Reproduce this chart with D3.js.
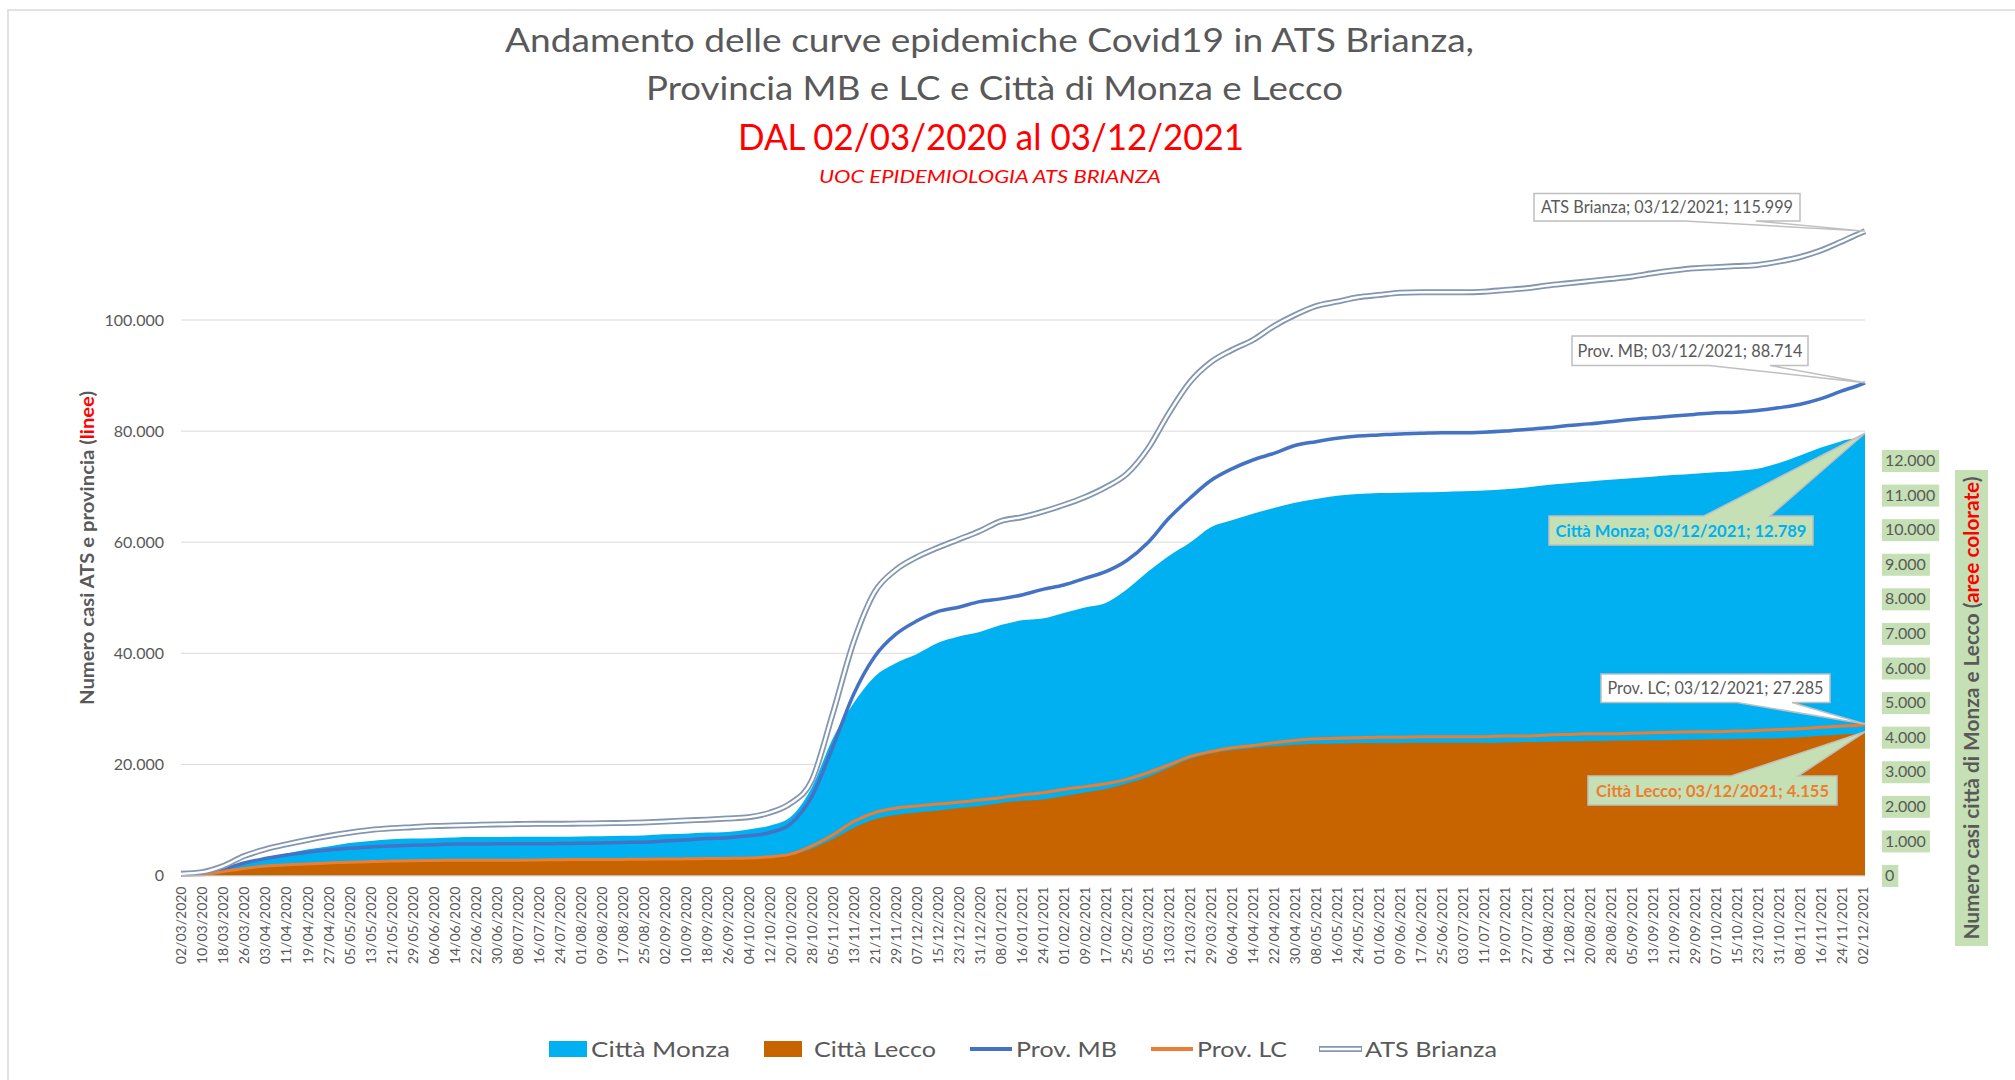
<!DOCTYPE html>
<html><head><meta charset="utf-8">
<script src="https://cdn.jsdelivr.net/npm/d3@7"></script>
<style>
body{margin:0;background:#fff;}
text{font-family:Lato,"Open Sans",sans-serif;}
</style>
</head><body>
<svg id="c" width="2015" height="1080"></svg>
<script>
// ---------------- DATA ----------------
const tickLabels = ["02/03/2020","10/03/2020","18/03/2020","26/03/2020","03/04/2020","11/04/2020","19/04/2020","27/04/2020","05/05/2020","13/05/2020","21/05/2020","29/05/2020","06/06/2020","14/06/2020","22/06/2020","30/06/2020","08/07/2020","16/07/2020","24/07/2020","01/08/2020","09/08/2020","17/08/2020","25/08/2020","02/09/2020","10/09/2020","18/09/2020","26/09/2020","04/10/2020","12/10/2020","20/10/2020","28/10/2020","05/11/2020","13/11/2020","21/11/2020","29/11/2020","07/12/2020","15/12/2020","23/12/2020","31/12/2020","08/01/2021","16/01/2021","24/01/2021","01/02/2021","09/02/2021","17/02/2021","25/02/2021","05/03/2021","13/03/2021","21/03/2021","29/03/2021","06/04/2021","14/04/2021","22/04/2021","30/04/2021","08/05/2021","16/05/2021","24/05/2021","01/06/2021","09/06/2021","17/06/2021","25/06/2021","03/07/2021","11/07/2021","19/07/2021","27/07/2021","04/08/2021","12/08/2021","20/08/2021","28/08/2021","05/09/2021","13/09/2021","21/09/2021","29/09/2021","07/10/2021","15/10/2021","23/10/2021","31/10/2021","08/11/2021","16/11/2021","24/11/2021","02/12/2021"];
const lastDate = "03/12/2021";
const sampleDates = tickLabels.concat([lastDate]);

const atsBrianza = [300,600,1700,3500,4700,5600,6400,7100,7700,8200,8500,8700,8900,9000,9100,9200,9250,9300,9300,9350,9400,9450,9550,9700,9900,10050,10250,10500,11300,13000,17000,29000,42000,51000,55000,57300,59000,60500,62000,63800,64500,65500,66700,68100,69900,72300,76800,83200,88800,92400,94600,96400,98900,100900,102500,103300,104100,104500,104900,105000,105000,105000,105100,105400,105700,106200,106600,107000,107400,107800,108400,108900,109300,109500,109700,109900,110500,111300,112500,114100,115800,115999];
const provMB = [150,300,1100,2250,3050,3700,4200,4600,4900,5150,5300,5450,5550,5650,5650,5700,5700,5700,5750,5800,5850,5950,6000,6200,6400,6650,6800,7150,7700,9300,14100,23000,32600,39400,43400,45800,47500,48300,49300,49800,50500,51500,52300,53500,54700,56700,59900,64300,67900,71100,73200,74800,76000,77400,78100,78700,79100,79300,79500,79600,79700,79700,79800,80000,80300,80600,81000,81300,81700,82100,82400,82700,83000,83300,83400,83700,84200,84800,85800,87200,88500,88714];
const provLC = [50,150,700,1280,1700,1930,2090,2250,2400,2500,2600,2650,2700,2730,2730,2750,2750,2780,2850,2880,2890,2900,2920,2950,3000,3050,3080,3150,3370,3850,5300,7300,9700,11300,12100,12500,12850,13200,13600,14000,14500,14900,15500,16000,16500,17300,18500,19900,21400,22300,23000,23400,23900,24300,24600,24700,24800,24900,24900,25000,25000,25000,25000,25100,25100,25300,25400,25500,25500,25600,25700,25800,25900,25900,26000,26100,26300,26400,26700,26900,27100,27285];
const cittaMonza = [0,30,150,340,500,630,750,840,940,1000,1050,1070,1080,1100,1110,1110,1120,1120,1120,1130,1135,1150,1160,1190,1210,1240,1260,1330,1440,1690,2530,3950,4980,5750,6140,6400,6720,6910,7040,7240,7380,7430,7590,7750,7880,8270,8780,9240,9620,10070,10270,10460,10630,10780,10890,10980,11030,11060,11070,11080,11090,11110,11130,11170,11220,11290,11340,11390,11440,11490,11530,11580,11620,11660,11700,11760,11920,12140,12370,12560,12720,12789];
const cittaLecco = [0,10,80,180,230,270,310,335,360,390,410,425,440,450,450,455,460,465,475,480,480,485,485,490,490,495,500,510,540,590,770,1045,1370,1625,1750,1820,1880,1950,2010,2100,2160,2200,2300,2400,2500,2660,2850,3110,3370,3530,3620,3690,3740,3780,3810,3820,3830,3830,3830,3835,3835,3840,3840,3845,3860,3870,3880,3890,3900,3905,3910,3920,3930,3940,3950,3960,3970,4000,4040,4080,4110,4155];

const leftTicks = [0,20000,40000,60000,80000,100000];
const rightTicks = [0,1000,2000,3000,4000,5000,6000,7000,8000,9000,10000,11000,12000];
const seriesNames = ["Città Monza","Città Lecco","Prov. MB","Prov. LC","ATS Brianza"];

// ---------------- SETUP ----------------
const C = {monza:"#00b0f0", lecco:"#c86400", mb:"#4472c4", lc:"#ed7d31", ats:"#8497b0", txt:"#595959", grid:"#d9d9d9", green:"#c5e0b4", red:"#ff0000"};
const svg = d3.select("#c");
const parse = d3.timeParse("%d/%m/%Y");
const itLoc = d3.formatLocale({decimal:",", thousands:".", grouping:[3], currency:["","€"]});
const fmt = itLoc.format(",");

svg.append("rect").attr("width",2015).attr("height",1080).attr("fill","#fff");
svg.append("rect").attr("x",8).attr("y",10).attr("width",2030).attr("height",1100)
  .attr("fill","none").attr("stroke",C.grid).attr("stroke-width",1.5);

const x = d3.scaleTime().domain([parse(sampleDates[0]), parse(lastDate)]).range([181, 1865]);
const yL = d3.scaleLinear().domain([0,100000]).range([875.5, 320]);
const yR = d3.scaleLinear().domain([0,12000]).range([875.5, 460.5]);

const pts = arr => arr.map((v,i)=>({date:parse(sampleDates[i]), v}));

// gridlines
svg.append("g").selectAll("line").data(leftTicks.filter(d=>d>0)).join("line")
  .attr("x1",181).attr("x2",1865).attr("y1",d=>yL(d)).attr("y2",d=>yL(d))
  .attr("stroke",C.grid).attr("stroke-width",1);

// areas
const areaR = d3.area().x(d=>x(d.date)).y0(yR(0)).y1(d=>yR(d.v)).curve(d3.curveMonotoneX);
svg.append("path").attr("d",areaR(pts(cittaMonza))).attr("fill",C.monza);
svg.append("path").attr("d",areaR(pts(cittaLecco))).attr("fill",C.lecco);

// lines
const lineL = d3.line().x(d=>x(d.date)).y(d=>yL(d.v)).curve(d3.curveMonotoneX);
svg.append("path").attr("d",lineL(pts(provMB))).attr("fill","none").attr("stroke",C.mb).attr("stroke-width",3.5);
svg.append("path").attr("d",lineL(pts(provLC))).attr("fill","none").attr("stroke",C.lc).attr("stroke-width",3);
svg.append("path").attr("d",lineL(pts(atsBrianza))).attr("fill","none").attr("stroke",C.ats).attr("stroke-width",6);
svg.append("path").attr("d",lineL(pts(atsBrianza))).attr("fill","none").attr("stroke","#fff").attr("stroke-width",2.4);

// x axis
const xAxis = svg.append("g").attr("transform","translate(0,875.5)")
  .call(d3.axisBottom(x).tickValues(tickLabels.map(parse)).tickFormat(d3.timeFormat("%d/%m/%Y")).tickSize(0).tickSizeOuter(0));
xAxis.select(".domain").attr("stroke",C.grid).attr("stroke-width",1.2);
xAxis.selectAll("text").attr("transform","rotate(-90)").attr("text-anchor","end")
  .attr("x",-11).attr("y",0).attr("dy","0.35em").attr("fill",C.txt).style("font-size","14px");

// left axis
const lAxis = svg.append("g").attr("transform","translate(181,0)")
  .call(d3.axisLeft(yL).tickValues(leftTicks).tickFormat(fmt).tickSize(0).tickPadding(17));
lAxis.select(".domain").remove();
lAxis.selectAll("text").attr("fill",C.txt).style("font-size","16px");

// right axis
const rAxis = svg.append("g").attr("transform","translate(1885,0)")
  .call(d3.axisRight(yR).tickValues(rightTicks).tickFormat(fmt).tickSize(0).tickPadding(0));
rAxis.select(".domain").remove();
rAxis.selectAll("text").attr("fill",C.txt).style("font-size","16px");
rAxis.selectAll(".tick").each(function(){
  const t = d3.select(this).select("text");
  const w = t.node().getComputedTextLength();
  d3.select(this).insert("rect","text").attr("x",-3).attr("y",-11).attr("width",w+7).attr("height",22).attr("fill",C.green);
});

// axis titles
const lt = svg.append("text").attr("transform","translate(94,548) rotate(-90)").attr("text-anchor","middle")
  .style("font-size","19px").style("font-weight","bold").attr("fill",C.txt)
  .attr("textLength",314).attr("lengthAdjust","spacingAndGlyphs");
lt.append("tspan").text("Numero casi ATS e  provincia (");
lt.append("tspan").attr("fill",C.red).text("linee");
lt.append("tspan").text(")");

svg.append("rect").attr("x",1955).attr("y",470).attr("width",33).attr("height",476).attr("fill",C.green);
const rt = svg.append("text").attr("transform","translate(1979,708) rotate(-90)").attr("text-anchor","middle")
  .style("font-size","20px").style("font-weight","bold").attr("fill",C.txt)
  .attr("textLength",463).attr("lengthAdjust","spacingAndGlyphs");
rt.append("tspan").text("Numero casi città di Monza e Lecco (");
rt.append("tspan").attr("fill",C.red).text("aree colorate");
rt.append("tspan").text(")");

// titles
const titles = [
  {t:"Andamento delle curve epidemiche Covid19 in ATS Brianza,", x:989.5, y:52, s:33, c:C.txt, w:969},
  {t:"Provincia MB e LC e Città di Monza e Lecco", x:994.5, y:100, s:33, c:C.txt, w:697},
  {t:"DAL 02/03/2020 al 03/12/2021", x:991, y:150, s:36, c:C.red, w:506},
  {t:"UOC EPIDEMIOLOGIA ATS BRIANZA", x:990, y:183, s:17, c:C.red, w:342, it:true}
];
titles.forEach(o=>{
  svg.append("text").attr("x",o.x).attr("y",o.y).attr("text-anchor","middle")
    .style("font-size",o.s+"px").style("font-style",o.it?"italic":"normal").attr("fill",o.c)
    .attr("textLength",o.w).attr("lengthAdjust","spacingAndGlyphs").text(o.t);
});

// callouts
function callout(b, wa, wb, side, px, py, fill, text, color, bold, tw){
  let d;
  if(side==="bottom") d=`M${b[0]},${b[1]}H${b[2]}V${b[3]}H${wb}L${px},${py}L${wa},${b[3]}H${b[0]}Z`;
  else d=`M${b[0]},${b[1]}H${wa}L${px},${py}L${wb},${b[1]}H${b[2]}V${b[3]}H${b[0]}Z`;
  svg.append("path").attr("d",d).attr("fill",fill).attr("stroke","#bfbfbf").attr("stroke-width",1.5);
  svg.append("text").attr("x",(b[0]+b[2])/2).attr("y",(b[1]+b[3])/2).attr("dy","0.36em").attr("text-anchor","middle")
    .style("font-size","17px").style("font-weight",bold?"bold":"normal").attr("fill",color)
    .attr("textLength",tw).attr("lengthAdjust","spacingAndGlyphs").text(text);
}
const n = sampleDates.length-1;
const xe = x(parse(lastDate));
callout([1534,193.5,1800,221],1684,1756,"bottom",xe,yL(atsBrianza[n]),"#fff",`ATS Brianza; ${lastDate}; ${fmt(atsBrianza[n])}`,C.txt,false,252);
callout([1572,336,1808,365.5],1709,1770,"bottom",xe,yL(provMB[n]),"#fff",`Prov. MB; ${lastDate}; ${fmt(provMB[n])}`,C.txt,false,225);
callout([1549,516,1813,545],1704,1770,"top",xe,yR(cittaMonza[n]),C.green,`Città Monza; ${lastDate}; ${fmt(cittaMonza[n])}`,C.monza,true,251);
callout([1601,674,1830,702.5],1737,1792,"bottom",xe,yL(provLC[n]),"#fff",`Prov. LC; ${lastDate}; ${fmt(provLC[n])}`,C.txt,false,216);
callout([1588,776,1837,805],1731,1798,"top",xe,yR(cittaLecco[n]),C.green,`Città Lecco; ${lastDate}; ${fmt(cittaLecco[n])}`,C.lc,true,233);

// legend
const leg = svg.append("g");
const ly = 1049;
const legItems = [
  {name:seriesNames[0], type:"rect", c:C.monza, sx:549, tx:591, tw:139},
  {name:seriesNames[1], type:"rect", c:C.lecco, sx:764, tx:814, tw:122},
  {name:seriesNames[2], type:"line", c:C.mb, sx:970, tx:1016, tw:101},
  {name:seriesNames[3], type:"line", c:C.lc, sx:1151, tx:1197, tw:90},
  {name:seriesNames[4], type:"dbl", c:C.ats, sx:1319, tx:1365, tw:132}
];
legItems.forEach(o=>{
  if(o.type==="rect") leg.append("rect").attr("x",o.sx).attr("y",ly-8).attr("width",38).attr("height",16).attr("fill",o.c);
  else if(o.type==="line") leg.append("line").attr("x1",o.sx).attr("x2",o.sx+42).attr("y1",ly).attr("y2",ly).attr("stroke",o.c).attr("stroke-width",4);
  else {
    leg.append("line").attr("x1",o.sx).attr("x2",o.sx+43).attr("y1",ly).attr("y2",ly).attr("stroke",o.c).attr("stroke-width",6);
    leg.append("line").attr("x1",o.sx+1).attr("x2",o.sx+42).attr("y1",ly).attr("y2",ly).attr("stroke","#fff").attr("stroke-width",2.4);
  }
  leg.append("text").attr("x",o.tx).attr("y",ly).attr("dy","0.35em").style("font-size","22px").attr("fill",C.txt)
    .attr("textLength",o.tw).attr("lengthAdjust","spacingAndGlyphs").text(o.name);
});
</script>
</body></html>
